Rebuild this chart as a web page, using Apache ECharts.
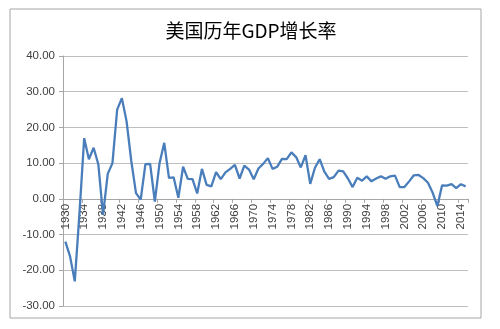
<!DOCTYPE html>
<html><head><meta charset="utf-8">
<script src="https://cdn.jsdelivr.net/npm/echarts@6/dist/echarts.min.js"></script>
<style>html,body{margin:0;padding:0;background:#fff}#c{width:500px;height:329px}</style>
</head><body><div id="c"></div>
<script>
var title = '美国历年GDP增长率';
var years = [];
for (var y = 1930; y <= 2015; y++) years.push(String(y));
var growth = [
 -12.0,-16.1,-23.1,-4.0,17.0,11.1,14.3,9.7,-4.5,7.0,
 10.0,25.0,28.2,21.7,10.6,1.6,-0.2,9.7,9.8,-0.8,
 10.0,15.7,5.9,6.0,0.3,9.0,5.6,5.5,1.5,8.4,
 3.9,3.5,7.5,5.5,7.4,8.4,9.5,5.7,9.3,8.2,
 5.5,8.5,9.8,11.4,8.4,9.0,11.2,11.1,13.0,11.7,
 8.8,12.2,4.2,8.7,11.1,7.6,5.6,6.1,7.9,7.7,
 5.7,3.3,5.9,5.1,6.3,4.9,5.7,6.3,5.6,6.3,
 6.5,3.3,3.3,4.9,6.6,6.7,5.8,4.5,1.7,-2.0,
 3.8,3.7,4.1,3.0,4.1,3.5
];
var yMin = -30, yMax = 40;
var gridTop = 56, gridBottom = 23, H = 329;
var plotH = H - gridTop - gridBottom;
var zeroOffset = -plotH * (0 - yMin) / (yMax - yMin);
var chart = echarts.init(document.getElementById('c'));
chart.setOption({
  animation:false,
  backgroundColor:'#fff',
  title:{text:title,left:246,top:16,textAlign:'center',
    textStyle:{fontFamily:'Noto Sans CJK SC',fontSize:19,fontWeight:'normal',color:'#000'}},
  graphic:[{type:'rect',shape:{x:10,y:9,width:471,height:309},
    style:{fill:'none',stroke:'#a6a6a6',lineWidth:1}}],
  grid:{left:63,right:32,top:gridTop,bottom:gridBottom},
  xAxis:{type:'category',data:years,boundaryGap:true,offset:zeroOffset,
    axisLine:{onZero:false,lineStyle:{color:'#a6a6a6'}},
    axisTick:{show:true,interval:3,length:4,lineStyle:{color:'#a6a6a6'}},
    axisLabel:{interval:3,rotate:90,color:'#404040',fontSize:11.5,fontFamily:'Liberation Sans',margin:5},
    splitLine:{show:false}},
  yAxis:{type:'value',min:yMin,max:yMax,interval:10,
    axisLine:{show:true,lineStyle:{color:'#a6a6a6'}},
    axisTick:{show:true,length:4,lineStyle:{color:'#a6a6a6'}},
    axisLabel:{formatter:function(v){return v.toFixed(2);},color:'#404040',fontSize:11.5,fontFamily:'Liberation Sans',margin:8},
    splitLine:{lineStyle:{color:'#bfbfbf'}}},
  series:[{type:'line',data:growth,symbol:'none',
    lineStyle:{color:'#4a7ebb',width:2.3}}]
});
</script></body></html>
